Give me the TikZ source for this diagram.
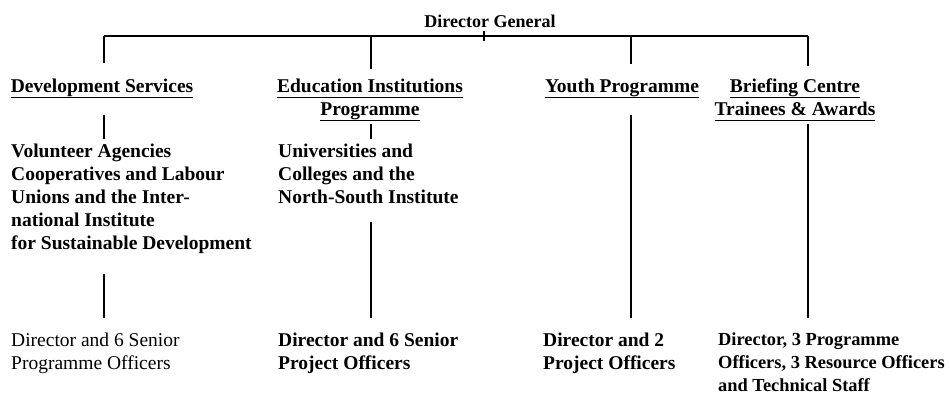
\documentclass[tikz,border=0pt]{standalone}
\usepackage{fontspec}
\setmainfont{Liberation Serif}
\usetikzlibrary{positioning,calc}

% underlined heading line, thick rule under the text
\newcommand{\ulhead}[1]{\setbox0=\hbox{#1}\leavevmode\rlap{\raisebox{-5.5bp}{\rule{\wd0}{1.5bp}}}\box0}

\begin{document}
\begin{tikzpicture}[
    x=1bp, y=-1bp,
    every node/.style={inner sep=0pt, font=\fontsize{19.5bp}{23bp}\selectfont\bfseries},
    head/.style={anchor=north, align=center},
    body/.style={anchor=north west, align=left},
    bus/.style={line width=1.1bp},
    link/.style={line width=2.4bp}
]
\useasboundingbox (0,0) rectangle (951,397);

% Top of the chart
\node[anchor=base, font=\fontsize{18bp}{22bp}\selectfont\bfseries] (dg) at (490,27.5) {Director General};

% Bus line and its branch points
\coordinate (b1) at (104,36);
\coordinate (b2) at (371,36);
\coordinate (b3) at (631,36);
\coordinate (b4) at (808,36);
\coordinate (tk) at (484,36);
\draw[bus] (b1) -- (b4);
\draw[bus] ([yshift=5bp]tk) -- ([yshift=-5bp]tk);

% Branch headings
\node[head] (dev) at (102,79) {\ulhead{Development Services}};
\node[head] (edu) at (370,79) {\ulhead{Education Institutions}\\\ulhead{Programme}};
\node[head] (youth) at (622,79) {\ulhead{Youth Programme}};
\node[head] (brief) at (795,79) {\ulhead{Briefing Centre}\\\ulhead{Trainees \& Awards}};

% Clients of each branch
\node[body] (vol) at (11,144) {Volunteer Agencies\\Cooperatives and Labour\\Unions and the Inter-\\national Institute\\for Sustainable Development};
\node[body] (uni) at (278,144) {Universities and\\Colleges and the\\North-South Institute};

% Staff of each branch
\node[body, font=\fontsize{19.5bp}{23bp}\selectfont] (dsen) at (11,333) {Director and 6 Senior\\Programme Officers};
\node[body] (dpro) at (278,333) {Director and 6 Senior\\Project Officers};
\node[body] (dyou) at (543,333) {Director and 2\\Project Officers};
\node[body, font=\fontsize{18.4bp}{23bp}\selectfont\bfseries] (dbri) at (718,333) {Director, 3 Programme\\Officers, 3 Resource Officers\\and Technical Staff};

% Drops from the bus
\draw[link, line width=1.5bp] (b1) -- ($(b1 |- dev.north)+(0,-16)$);
\draw[link] (b2) -- ($(b2 |- edu.north)+(0,-10)$);
\draw[link] (b3) -- ($(b3 |- youth.north)+(0,-15)$);
\draw[link] (b4) -- ($(b4 |- brief.north)+(0,-13)$);

% Heading to clients
\draw[link] ($(dev.south -| b1)+(0,16.5)$) -- ($(vol.north -| b1)+(0,-5)$);
\draw[link] ($(edu.south -| b2)+(0,2.5)$) -- ($(uni.north -| b2)+(0,-5)$);

% Down to the staff
\draw[link] ($(vol.south -| b1)+(0,20)$) -- ($(dsen.north -| b1)+(0,-15)$);
\draw[link] ($(uni.south -| b2)+(0,18)$) -- ($(dpro.north -| b2)+(0,-15)$);
\draw[link] ($(youth.south -| b3)+(0,16.5)$) -- ($(dyou.north -| b3)+(0,-15)$);
\draw[link] ($(brief.south -| b4)+(0,2.5)$) -- ($(dbri.north -| b4)+(0,-15)$);

\end{tikzpicture}
\end{document}
